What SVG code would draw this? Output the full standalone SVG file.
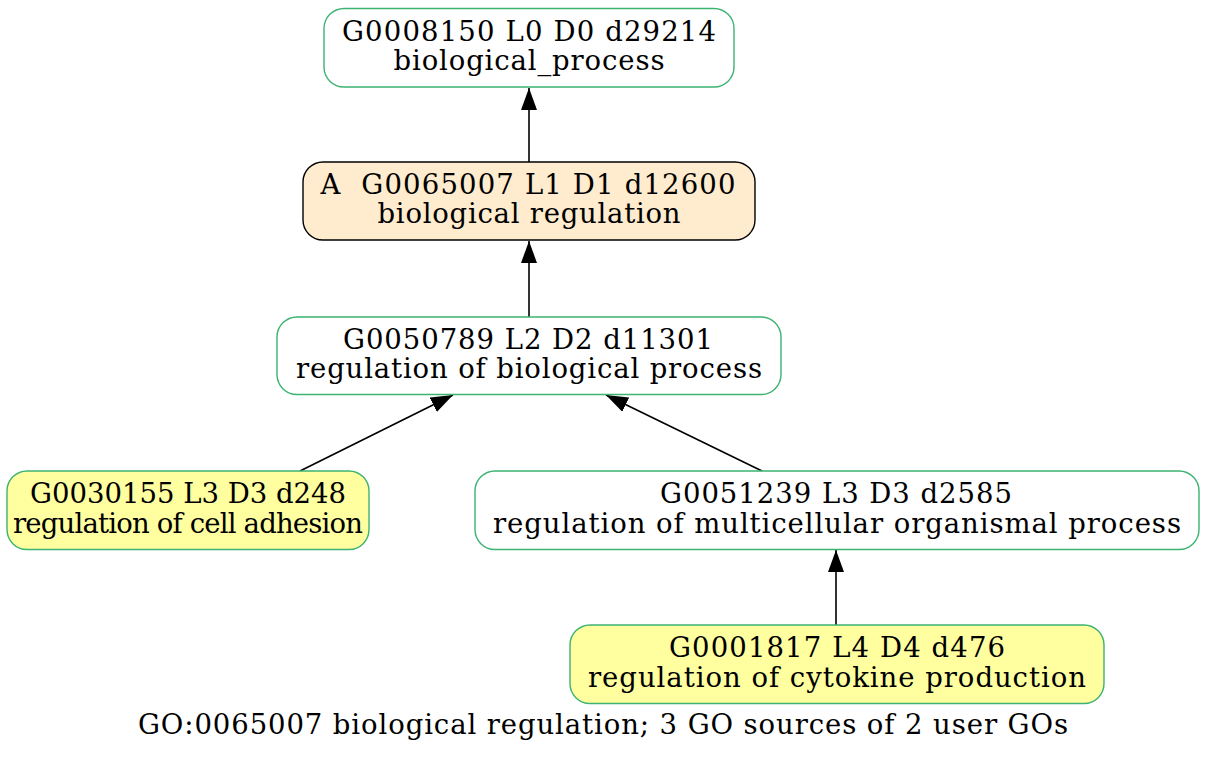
<svg xmlns="http://www.w3.org/2000/svg" width="1208" height="760" viewBox="0 0 1208 760">
<defs>
<style>
.box{stroke:#3cb371;stroke-width:1.4;fill:#ffffff}
.user{fill:#ffffa0}
.alias{fill:#ffebcd;stroke:#000000}
text{font-family:"DejaVu Serif","Liberation Serif",serif;font-size:27.5px;fill:#000;text-anchor:middle;white-space:pre}
.edge{stroke:#000;stroke-width:1.6;fill:none}
</style>
<marker id="arr" viewBox="0 0 22 16" refX="22" refY="8" markerWidth="22" markerHeight="16" markerUnits="userSpaceOnUse" orient="auto">
<path d="M0,0 L22,8 L0,16 Z" fill="#000"/>
</marker>
</defs>
<rect width="1208" height="760" fill="#fff"/>
<g id="edges">
<line class="edge" x1="529" y1="162" x2="529" y2="88" marker-end="url(#arr)"/>
<line class="edge" x1="529" y1="317" x2="529" y2="241" marker-end="url(#arr)"/>
<line class="edge" x1="300" y1="471" x2="453" y2="395" marker-end="url(#arr)"/>
<line class="edge" x1="762" y1="471" x2="606" y2="395" marker-end="url(#arr)"/>
<line class="edge" x1="836" y1="625" x2="836" y2="550" marker-end="url(#arr)"/>
</g>
<g id="GO0008150">
<rect class="box" x="324" y="8.5" width="410" height="78.5" rx="20"/>
<text x="529" y="40.5" textLength="374" lengthAdjust="spacing">G0008150 L0 D0 d29214</text>
<text x="529" y="69.5" textLength="271" lengthAdjust="spacing">biological_process</text>
</g>
<g id="GO0065007">
<rect class="box alias" x="303" y="162" width="452" height="78" rx="20"/>
<text x="528" y="194" textLength="415" lengthAdjust="spacing">A  G0065007 L1 D1 d12600</text>
<text x="529" y="223" textLength="303" lengthAdjust="spacing">biological regulation</text>
</g>
<g id="GO0050789">
<rect class="box" x="277" y="317" width="504" height="77.5" rx="20"/>
<text x="528" y="348.5" textLength="370" lengthAdjust="spacing">G0050789 L2 D2 d11301</text>
<text x="529" y="377.5" textLength="466" lengthAdjust="spacing">regulation of biological process</text>
</g>
<g id="GO0030155">
<rect class="box user" x="7" y="471" width="362" height="78.5" rx="20"/>
<text x="188" y="503" textLength="316" lengthAdjust="spacing">G0030155 L3 D3 d248</text>
<text x="188" y="532.5" textLength="350" lengthAdjust="spacing">regulation of cell adhesion</text>
</g>
<g id="GO0051239">
<rect class="box" x="475" y="471" width="724" height="78.5" rx="20"/>
<text x="836" y="503" textLength="352" lengthAdjust="spacing">G0051239 L3 D3 d2585</text>
<text x="837" y="532.5" textLength="688" lengthAdjust="spacing">regulation of multicellular organismal process</text>
</g>
<g id="GO0001817">
<rect class="box user" x="570" y="625" width="534" height="78.5" rx="20"/>
<text x="837" y="657" textLength="336" lengthAdjust="spacing">G0001817 L4 D4 d476</text>
<text x="837" y="686.5" textLength="498" lengthAdjust="spacing">regulation of cytokine production</text>
</g>
<text id="caption" x="603" y="734" textLength="930" lengthAdjust="spacing">GO:0065007 biological regulation; 3 GO sources of 2 user GOs</text>
</svg>
